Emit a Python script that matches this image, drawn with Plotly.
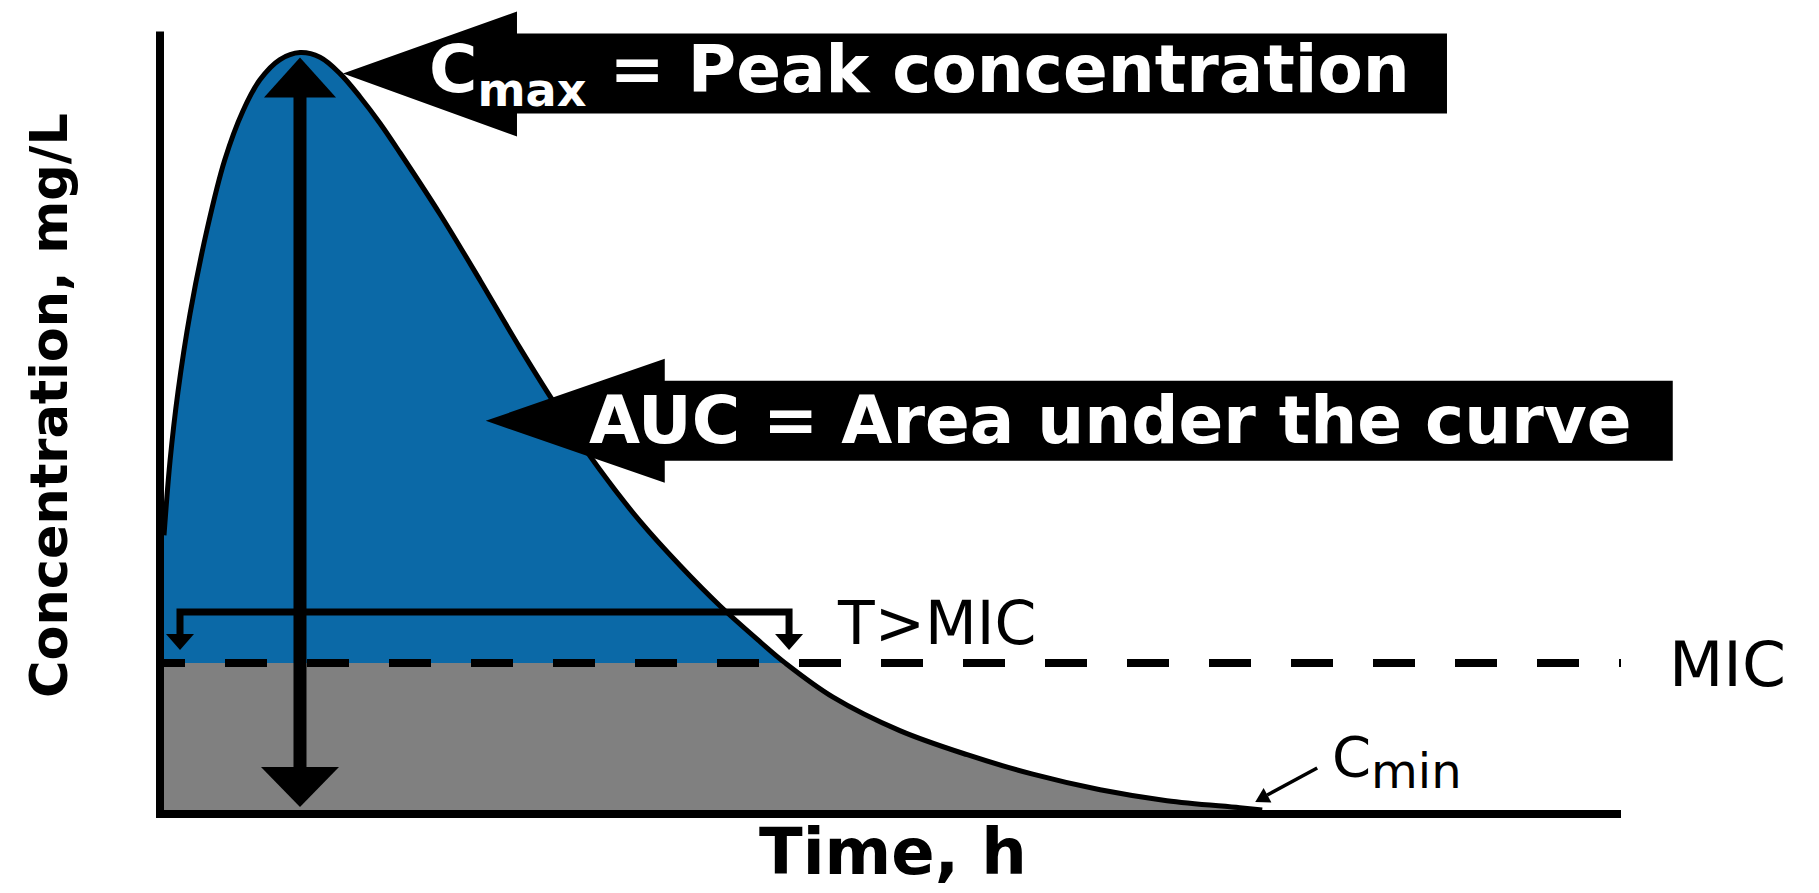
import numpy as np
import plotly.graph_objects as go

# ---------------- data ----------------
time_h = [0.00, 0.10, 0.23, 0.43, 0.71, 1.00, 1.30, 1.58, 1.91, 2.24,
          2.57, 2.90, 3.23, 3.56, 3.89, 4.55, 5.21, 5.86, 6.52, 7.18,
          7.84, 8.50, 9.16, 9.82, 10.23, 11.02, 12.12, 13.23, 14.31, 15.42,
          16.52, 17.72, 18.09]
conc_mg_l = [35.3, 44.9, 53.7, 63.8, 74.6, 83.5, 89.8, 93.8, 96.4, 97.3,
             96.7, 94.6, 91.6, 88.2, 84.4, 76.5, 68.0, 59.4, 51.2, 43.7,
             37.1, 31.4, 26.2, 21.6, 18.9, 14.5, 10.2, 7.1, 4.6, 2.6,
             1.2, 0.3, 0.0]
mic_mg_l = 18.9
auc_label_point = (5.3, 50.0)          # where the AUC arrow points
x_range = [0, 24]
y_range = [0, 102]
y_axis_top = 100

label_cmax = "<b>C<sub>max</sub> = Peak concentration</b>"
label_auc = "<b>AUC = Area under the curve</b>"
label_tmic = "T>MIC"
label_mic = "MIC"
label_cmin = 'C<sub><span style="font-size:48px">min</span></sub>'
label_x = "<b>Time, h</b>"
label_y = "<b>Concentration, mg/L</b>"

# ---------------- layout constants ----------------
OFF = 8                       # the page body adds an 8 px margin
W, H = 1819 - OFF, 893 - OFF
ML = 164 - OFF
MB = H - (810 - OFF)
MR = W - (1621 - OFF)
PW = W - ML - MR
PH = int(round((y_range[1] - y_range[0]) * 7.78))
MT = H - MB - PH
px_h = PW / (x_range[1] - x_range[0])      # pixels per hour
px_c = PH / (y_range[1] - y_range[0])      # pixels per mg/L

BLUE = "#0b69a7"
GREY = "#808080"
FONT = "DejaVu Sans"


def px(t_val):
    return (t_val - x_range[0]) / (x_range[1] - x_range[0])


def py(c_val):
    return (c_val - y_range[0]) / (y_range[1] - y_range[0])


t = np.array(time_h)
c = np.array(conc_mg_l)
ip = int(np.argmax(c))
t_peak, c_peak = t[ip], c[ip]
t_end, c_end = t[-1], c[-1]

# crossing of the curve with MIC on the falling limb
k = next(i for i in range(ip, len(c) - 1) if c[i] > mic_mg_l >= c[i + 1])
t_cross = t[k] + (mic_mg_l - c[k]) * (t[k + 1] - t[k]) / (c[k + 1] - c[k])

blue_x = list(t[:k + 1]) + [t_cross]
blue_y = list(c[:k + 1]) + [mic_mg_l]
tail_x = [t_cross] + [v for v in t[k + 1:] if v > t_cross]
tail_y = [mic_mg_l] + [cv for tv, cv in zip(t[k + 1:], c[k + 1:]) if tv > t_cross]

fig = go.Figure()
# grey area below MIC
fig.add_trace(go.Scatter(x=[0, t_cross + 0.03], y=[mic_mg_l, mic_mg_l], mode="lines",
                         line=dict(width=0, color=GREY), fill="tozeroy", fillcolor=GREY,
                         hoverinfo="skip", showlegend=False))
fig.add_trace(go.Scatter(x=tail_x, y=tail_y, mode="lines", line=dict(width=0, color=GREY, shape="spline"),
                         fill="tozeroy", fillcolor=GREY, hoverinfo="skip", showlegend=False))
# blue area above MIC
fig.add_trace(go.Scatter(x=[0, t_cross], y=[mic_mg_l, mic_mg_l], mode="lines",
                         line=dict(width=0, color=BLUE), hoverinfo="skip", showlegend=False))
fig.add_trace(go.Scatter(x=blue_x, y=blue_y, mode="lines", line=dict(width=0, color=BLUE, shape="spline"),
                         fill="tonexty", fillcolor=BLUE, hoverinfo="skip", showlegend=False))
# concentration curve
fig.add_trace(go.Scatter(x=time_h, y=conc_mg_l, mode="lines",
                         line=dict(width=5, color="black", shape="spline"),
                         hoverinfo="skip", showlegend=False))

shapes = []
# axis lines (L-shaped frame)
shapes.append(dict(type="path", xref="paper", yref="paper", xsizemode="pixel", ysizemode="pixel",
                   xanchor=0, yanchor=0,
                   path=f"M-4,{(y_axis_top - y_range[0]) * px_c:.1f} L-4,-4 L{PW},-4",
                   line=dict(color="black", width=8)))
# MIC dashed line
shapes.append(dict(type="line", xref="x", yref="y", x0=-21 / px_h, x1=x_range[1],
                   y0=mic_mg_l, y1=mic_mg_l, line=dict(color="black", width=8, dash="42px,40px")))

# vertical double arrow at the peak
shapes.append(dict(type="line", xref="x", yref="y", x0=t_peak, x1=t_peak,
                   y0=42 / px_c, y1=c_peak - 43 / px_c, line=dict(color="black", width=13)))
shapes.append(dict(type="path", xref="x", yref="y", xsizemode="pixel", ysizemode="pixel",
                   xanchor=t_peak, yanchor=c_peak, path="M0,-5 L36,-45 L-36,-45 Z",
                   fillcolor="black", line=dict(width=0)))
shapes.append(dict(type="path", xref="x", yref="y", xsizemode="pixel", ysizemode="pixel",
                   xanchor=t_peak, yanchor=0, path="M0,3 L39,43 L-39,43 Z",
                   fillcolor="black", line=dict(width=0)))

# T>MIC bracket
t_left = 16 / px_h
t_right = t_cross + 4 / px_h
shapes.append(dict(type="path", xref="x", yref="y", ysizemode="pixel", yanchor=mic_mg_l,
                   path=f"M{t_left},27 L{t_left},51 L{t_right},51 L{t_right},27",
                   line=dict(color="black", width=7)))
for tx in (t_left, t_right):
    shapes.append(dict(type="path", xref="x", yref="y", xsizemode="pixel", ysizemode="pixel",
                       xanchor=tx, yanchor=mic_mg_l, path="M0,13 L14,29 L-14,29 Z",
                       fillcolor="black", line=dict(width=0)))

# Cmin pointer arrow (anchored at the end of the curve)
shapes.append(dict(type="path", xref="paper", yref="paper", xsizemode="pixel", ysizemode="pixel",
                   xanchor=px(t_end), yanchor=py(c_end), path="M55,42 L5,15",
                   line=dict(color="black", width=3.5)))
shapes.append(dict(type="path", xref="paper", yref="paper", xsizemode="pixel", ysizemode="pixel",
                   xanchor=px(t_end), yanchor=py(c_end), path="M-7,8 L1.4,22 L9.2,7.6 Z",
                   fillcolor="black", line=dict(width=0)))

# Cmax call-out arrow (anchored at the peak)
shapes.append(dict(type="path", xref="paper", yref="paper", xsizemode="pixel", ysizemode="pixel",
                   xanchor=px(t_peak), yanchor=py(c_peak),
                   path="M43,-21 L217,41 L217,19 L1147,19 L1147,-61 L217,-61 L217,-84 Z",
                   fillcolor="black", line=dict(width=0)))
# AUC call-out arrow
shapes.append(dict(type="path", xref="paper", yref="paper", xsizemode="pixel", ysizemode="pixel",
                   xanchor=px(auc_label_point[0]), yanchor=py(auc_label_point[1]),
                   path="M0,0 L179,62 L179,40 L1187,40 L1187,-40 L179,-40 L179,-62 Z",
                   fillcolor="black", line=dict(width=0)))

annotations = [
    dict(x=t_peak, y=c_peak, xref="x", yref="y", text=label_cmax, showarrow=False,
         xanchor="center", yanchor="middle", xshift=620, yshift=-21,
         font=dict(family=FONT, size=66, color="white")),
    dict(x=auc_label_point[0], y=auc_label_point[1], xref="x", yref="y", text=label_auc,
         showarrow=False, xanchor="center", yanchor="middle", xshift=624, yshift=0,
         font=dict(family=FONT, size=66, color="white")),
    dict(x=t_cross, y=mic_mg_l, xref="x", yref="y", text=label_tmic, showarrow=False,
         xanchor="left", yanchor="middle", xshift=50, yshift=40,
         font=dict(family=FONT, size=60, color="black")),
    dict(x=x_range[1], y=mic_mg_l, xref="x", yref="y", text=label_mic, showarrow=False,
         xanchor="left", yanchor="middle", xshift=46, yshift=-2,
         font=dict(family=FONT, size=63, color="black")),
    dict(x=t_end, y=c_end, xref="x", yref="y", text=label_cmin, showarrow=False,
         xanchor="left", yanchor="middle", xshift=68, yshift=49,
         font=dict(family=FONT, size=56, color="black")),
    dict(x=0.5, y=0, xref="paper", yref="paper", text=label_x, showarrow=False,
         xanchor="center", yanchor="bottom", yshift=-81,
         font=dict(family=FONT, size=64, color="black")),
    dict(x=0, y=((H - MB) - (406 - OFF)) / PH, xref="paper", yref="paper", text=label_y,
         showarrow=False, textangle=-90, xanchor="center", yanchor="middle",
         xshift=(50 - OFF) - ML,
         font=dict(family=FONT, size=51, color="black")),
]

fig.update_layout(
    width=W, height=H, margin=dict(l=ML, r=MR, t=MT, b=MB),
    paper_bgcolor="white", plot_bgcolor="white", showlegend=False,
    shapes=shapes, annotations=annotations,
    xaxis=dict(range=x_range, showline=False, showticklabels=False, ticks="",
               showgrid=False, zeroline=False, fixedrange=True),
    yaxis=dict(range=y_range, showline=False, showticklabels=False, ticks="",
               showgrid=False, zeroline=False, fixedrange=True),
)

fig.write_html("out.html")
